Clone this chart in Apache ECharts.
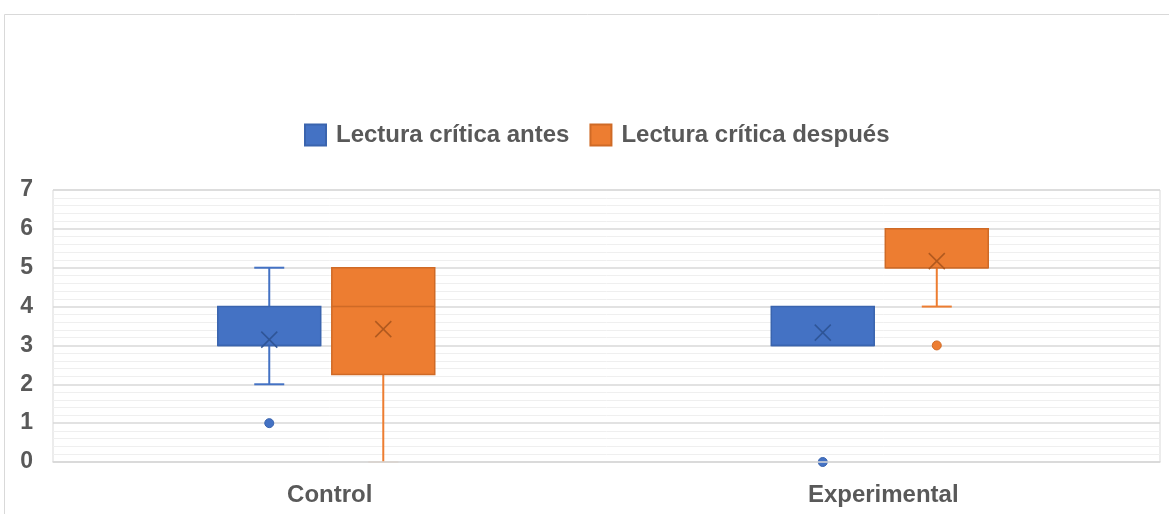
<!DOCTYPE html>
<html>
<head>
<meta charset="utf-8">
<script src="https://cdn.jsdelivr.net/npm/echarts@6/dist/echarts.min.js"></script>
<style>
    html, body { margin: 0; padding: 0; background: #fff; }
    #chart { width: 1169px; height: 514px; }
</style>
</head>
<body>
<div id="chart"></div>
<script>
// datos
var categories = ['Control', 'Experimental'];
var yTicks = [0, 1, 2, 3, 4, 5, 6, 7];

var antesMin = [2, 3];
var antesQ1 = [3, 3];
var antesMedian = [3, 3];
var antesQ3 = [4, 4];
var antesMax = [5, 4];
var antesMean = [3.15, 3.33];
var antesOutliers = [[1], [0]];

var despuesMin = [0, 4];
var despuesQ1 = [2.25, 5];
var despuesMedian = [4, 5];
var despuesQ3 = [5, 6];
var despuesMax = [5, 6];
var despuesMean = [3.42, 5.17];
var despuesOutliers = [[], [3]];

function toRows(min, q1, med, q3, max, mean) {
    return categories.map(function (c, i) {
        return [i, min[i], q1[i], med[i], q3[i], max[i], mean[i]];
    });
}

/**
 * Caja estilo Excel: caja, mediana, bigotes con tapas cortas, media (X) y atípicos.
 */
function boxRenderer(side, fill, stroke, meanColor, outliers) {
    return function (params, api) {
        var band = api.size([1, 0])[0];
        var w = band * 0.186;
        var gap = band * 0.02;
        var cx = api.coord([api.value(0), 0])[0] - band * 0.0063 + side * (w / 2 + gap / 2);
        var y = function (v) { return api.coord([api.value(0), v])[1]; };
        var vMin = api.value(1), q1 = api.value(2), med = api.value(3),
            q3 = api.value(4), vMax = api.value(5), mean = api.value(6);
        var capW = 15;
        var line = { stroke: fill, lineWidth: 2 };
        var children = [];

        if (vMin < q1) {
            children.push({ type: 'line', shape: { x1: cx, y1: y(q1), x2: cx, y2: y(vMin) }, style: line });
            children.push({ type: 'line', shape: { x1: cx - capW, y1: y(vMin), x2: cx + capW, y2: y(vMin) },
                style: { stroke: fill, lineWidth: 2, opacity: vMin === 0 ? 0.2 : 1 } });
        }
        if (vMax > q3) {
            children.push({ type: 'line', shape: { x1: cx, y1: y(q3), x2: cx, y2: y(vMax) }, style: line });
            children.push({ type: 'line', shape: { x1: cx - capW, y1: y(vMax), x2: cx + capW, y2: y(vMax) }, style: line });
        }
        children.push({
            type: 'rect',
            shape: { x: cx - w / 2, y: y(q3), width: w, height: y(q1) - y(q3) },
            style: { fill: fill, stroke: stroke, lineWidth: 1.5 }
        });
        children.push({
            type: 'line',
            shape: { x1: cx - w / 2, y1: y(med), x2: cx + w / 2, y2: y(med) },
            style: { stroke: stroke, lineWidth: 1.5 }
        });
        var m = 8, my = y(mean);
        children.push({ type: 'line', shape: { x1: cx - m, y1: my - m, x2: cx + m, y2: my + m }, style: { stroke: meanColor, lineWidth: 1.5 } });
        children.push({ type: 'line', shape: { x1: cx - m, y1: my + m, x2: cx + m, y2: my - m }, style: { stroke: meanColor, lineWidth: 1.5 } });

        outliers[params.dataIndex].forEach(function (v) {
            children.push({ type: 'circle', shape: { cx: cx, cy: y(v), r: 4.5 }, style: { fill: fill, stroke: stroke, lineWidth: 1 } });
        });
        return { type: 'group', children: children };
    };
}

var textColor = '#595959';
var font = 'Liberation Sans, Arial, sans-serif';

var chart = echarts.init(document.getElementById('chart'));
chart.setOption({
    animation: false,
    graphic: [{
        type: 'rect',
        shape: { x: 4.5, y: 14.5, width: 1300, height: 600 },
        style: { fill: 'none', stroke: '#d9d9d9', lineWidth: 1 },
        silent: true
    }],
    legend: {
        top: 118,
        left: 299,
        icon: 'rect',
        itemWidth: 21,
        itemHeight: 21,
        itemGap: 20,
        textStyle: { color: textColor, fontSize: 24, fontWeight: 'bold', fontFamily: font, padding: [0, 0, 0, 5] },
        data: ['Lectura crítica antes', 'Lectura crítica después']
    },
    grid: {
        left: 53, right: 9, top: 190, bottom: 52,
        show: true, borderColor: '#d9d9d9', borderWidth: 1
    },
    xAxis: {
        type: 'category',
        data: categories,
        z: 10,
        axisLine: { show: true, lineStyle: { color: '#d9d9d9', width: 1.5 } },
        axisTick: { show: false },
        axisLabel: { color: textColor, fontSize: 24, fontWeight: 'bold', fontFamily: font, margin: 21 },
        splitLine: { show: false }
    },
    yAxis: {
        type: 'value',
        min: yTicks[0],
        max: yTicks[yTicks.length - 1],
        interval: 1,
        axisLine: { show: false },
        axisTick: { show: false },
        axisLabel: { color: textColor, fontSize: 23, fontWeight: 'bold', fontFamily: font, margin: 20, padding: [4, 0, 0, 0] },
        splitLine: { lineStyle: { color: '#d9d9d9', width: 1.5 } },
        minorTick: { show: false, splitNumber: 5 },
        minorSplitLine: { show: true, lineStyle: { color: '#efefef', width: 1 } }
    },
    series: [{
        name: 'Lectura crítica antes',
        type: 'custom',
        itemStyle: { color: '#4472C4', borderColor: '#3A64AE', borderWidth: 1 },
        renderItem: boxRenderer(-1, '#4472C4', '#3A64AE', '#2F5597', antesOutliers),
        data: toRows(antesMin, antesQ1, antesMedian, antesQ3, antesMax, antesMean)
    }, {
        name: 'Lectura crítica después',
        type: 'custom',
        itemStyle: { color: '#ED7D31', borderColor: '#CF6A26', borderWidth: 1 },
        renderItem: boxRenderer(1, '#ED7D31', '#CF6A26', '#B0591F', despuesOutliers),
        data: toRows(despuesMin, despuesQ1, despuesMedian, despuesQ3, despuesMax, despuesMean)
    }]
});
</script>
</body>
</html>
